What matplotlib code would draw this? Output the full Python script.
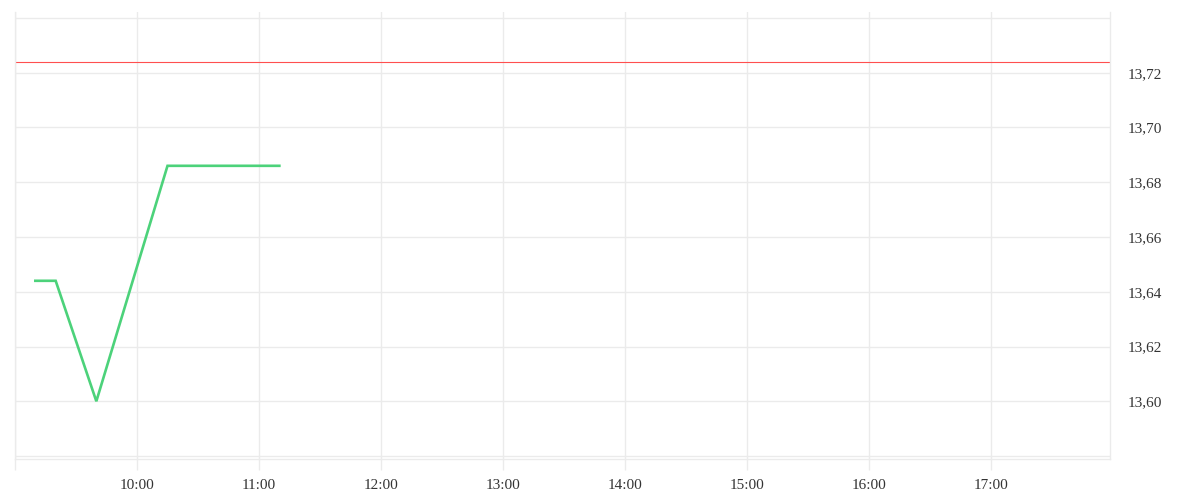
import matplotlib
matplotlib.use('Agg')
import matplotlib.pyplot as plt
import pandas as pd

# 데이터
times = ['09:10', '09:20', '09:40', '10:15', '11:10']
prices = [13.644, 13.644, 13.600, 13.686, 13.686]
ref_level = 13.724
day = '2024-01-02'

GRID = '#ebebeb'
TXT = '#333333'

t = pd.to_datetime([f'{day} {s}' for s in times])
x0 = pd.Timestamp(f'{day} 09:00')
x1 = pd.Timestamp(f'{day} 17:58:30')

fig = plt.figure(figsize=(12, 5), dpi=100)
ax = fig.add_axes([15/1200, (500-458.5)/500, 1095/1200, (458.5-12)/500])

ax.plot(t, prices, color='#4cd27a', lw=1.9, solid_joinstyle='miter')
ax.axhline(ref_level, color='#ff4f4f', lw=0.8)

ax.set_xlim(x0, x1)
ax.set_ylim(13.58 - 2.5/2750, 13.74 + 6/2750)

hours = pd.date_range(f'{day} 09:00', f'{day} 17:00', freq='h')
ax.set_xticks(hours)
ax.set_xticklabels(['' if h.hour == 9 else h.strftime('%H:%M') for h in hours])
yt = [13.58 + 0.02*i for i in range(9)]
ax.set_yticks(yt)
ax.set_yticklabels(['' if i in (0, 8) else f'{v:.2f}'.replace('.', ',') for i, v in enumerate(yt)])

ax.yaxis.tick_right()
ax.grid(True, color=GRID, lw=1)
ax.tick_params(axis='x', length=8, color=GRID, width=1, pad=7, labelsize=11, labelcolor=TXT)
ax.tick_params(axis='y', length=0, pad=13, labelsize=11, labelcolor=TXT)
for lab in ax.get_xticklabels() + ax.get_yticklabels():
    lab.set_family('Liberation Serif')
ax.spines['top'].set_visible(False)
for s in ['left', 'right', 'bottom']:
    ax.spines[s].set_color(GRID)
    ax.spines[s].set_linewidth(1)

fig.savefig('out.png', dpi=100)
